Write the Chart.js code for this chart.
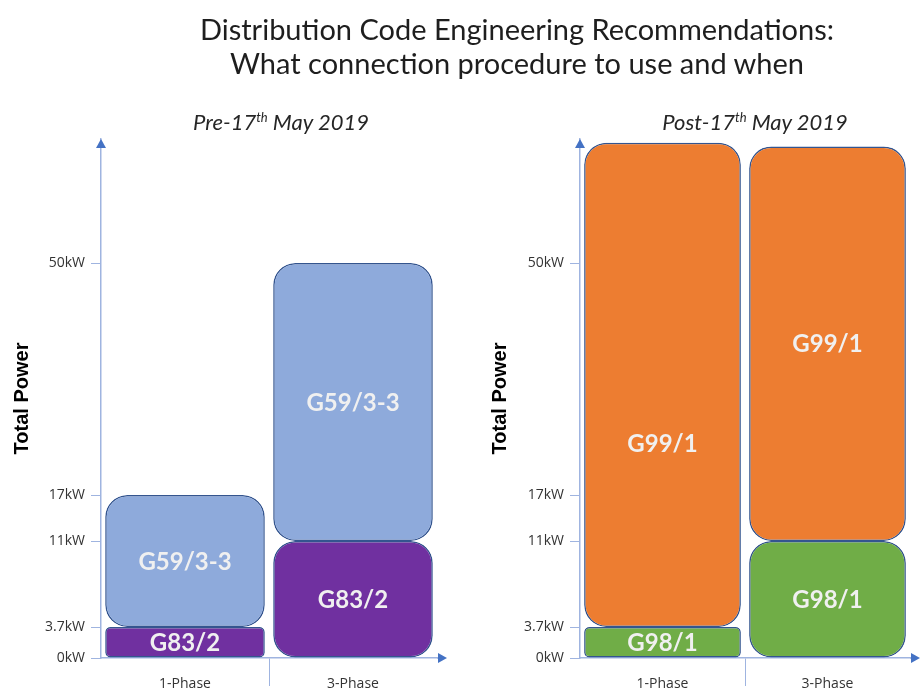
<!DOCTYPE html>
<html>
<head>
<meta charset="utf-8">
<title>Distribution Code Engineering Recommendations</title>
<script src="https://cdn.jsdelivr.net/npm/chart.js@4.4.1/dist/chart.umd.min.js"></script>
<style>
  body { margin: 0; background: #fff; width: 920px; height: 692px; overflow: hidden; position: relative; }
  canvas { position: absolute; top: 0; }
  #pre { left: 0; }
  #post { left: 460px; }
  .title { position: absolute; left: 97px; width: 840px; top: 12px; text-align: center;
           font-family: Lato, sans-serif; font-size: 29px; line-height: 34px; color: #1e1e1e; }
  .sub { position: absolute; top: 108px; width: 300px; text-align: center;
         font-family: Lato, sans-serif; font-style: italic; font-size: 22px; color: #262626; }
  .sub sup { font-size: 13px; vertical-align: 8px; line-height: 0; }
</style>
</head>
<body>
<canvas id="pre" width="460" height="692"></canvas>
<canvas id="post" width="460" height="692"></canvas>
<div class="title">Distribution Code Engineering Recommendations:<br>What connection procedure to use and when</div>
<div class="sub" style="left:131px">Pre-17<sup>th</sup> May 2019</div>
<div class="sub" style="left:605px">Post-17<sup>th</sup> May 2019</div>
<script>
// categories and axis ticks (kW)
var categories = ['1-Phase', '3-Phase'];
var yTicks = [0, 3.7, 11, 17, 50];

// floating ranges [from, to] in kW
var preLower = [[0, 3.7], [0, 11]];
var preUpper = [[3.7, 17], [11, 50]];
var postLower = [[0, 3.7], [0, 11]];
var postUpper = [[3.7, 69.4], [11, 68.8]];

// procedure names shown inside the boxes
var preLowerNames = ['G83/2', 'G83/2'];
var preUpperNames = ['G59/3-3', 'G59/3-3'];
var postLowerNames = ['G98/1', 'G98/1'];
var postUpperNames = ['G99/1', 'G99/1'];

// the power axis is not to scale: each kW band gets its own height
var axisKnots = [0, 3.7, 11, 17, 50, 70];
var axisSpacing = [0, 31, 117, 163, 395, 519];

class SegmentScale extends Chart.LinearScale {
  getPixelForValue(value) {
    var v = axisKnots, p = axisSpacing;
    var i = 0;
    while (i < v.length - 2 && value > v[i + 1]) i++;
    var f = p[i] + (value - v[i]) / (v[i + 1] - v[i]) * (p[i + 1] - p[i]);
    return this.getPixelForDecimal(f / p[p.length - 1]);
  }
  getValueForPixel(pixel) {
    var v = axisKnots, p = axisSpacing;
    var d = this.getDecimalForPixel(pixel) * p[p.length - 1];
    var i = 0;
    while (i < p.length - 2 && d > p[i + 1]) i++;
    return v[i] + (d - p[i]) / (p[i + 1] - p[i]) * (v[i + 1] - v[i]);
  }
}
SegmentScale.id = 'segment';
SegmentScale.defaults = Chart.LinearScale.defaults;
Chart.register(SegmentScale);

var axisColor = '#9fb4e0';
var arrowColor = '#4472c4';

// write the procedure name in the middle of each box
var boxText = {
  id: 'boxText',
  afterDatasetsDraw: function(chart) {
    var ctx = chart.ctx;
    ctx.save();
    ctx.font = 'bold 24px Lato';
    ctx.textAlign = 'center';
    ctx.textBaseline = 'middle';
    ctx.fillStyle = '#f0f0f0';
    chart.data.datasets.forEach(function(ds, di) {
      var shift = ds.nameShift || [0, 0];
      chart.getDatasetMeta(di).data.forEach(function(bar, i) {
        ctx.fillText(ds.names[i], bar.x, (bar.y + bar.base) / 2 + 1 + shift[i]);
      });
    });
    ctx.restore();
  }
};

// arrow heads on both axes
var axisArrows = {
  id: 'axisArrows',
  afterDraw: function(chart) {
    var ctx = chart.ctx, a = chart.chartArea;
    var tipX = a.right + 10;
    ctx.save();
    ctx.strokeStyle = axisColor;
    ctx.lineWidth = 1.5;
    ctx.beginPath();
    ctx.moveTo(a.right, a.bottom);
    ctx.lineTo(tipX - 6, a.bottom);
    ctx.stroke();
    ctx.fillStyle = arrowColor;
    ctx.beginPath();
    ctx.moveTo(a.left, a.top);
    ctx.lineTo(a.left - 5, a.top + 9);
    ctx.lineTo(a.left + 5, a.top + 9);
    ctx.closePath();
    ctx.fill();
    ctx.beginPath();
    ctx.moveTo(tipX, a.bottom);
    ctx.lineTo(tipX - 9, a.bottom - 5);
    ctx.lineTo(tipX - 9, a.bottom + 5);
    ctx.closePath();
    ctx.fill();
    ctx.restore();
  }
};

function makeChart(id, lower, upper, lowerNames, upperNames, lowerColor, upperColor, axisWidth, titlePad, padRight, upperShift) {
  var ctx = document.getElementById(id).getContext('2d');
  return new Chart(ctx, {
    type: 'bar',
    data: {
      labels: categories,
      datasets: [{
        data: lower,
        names: lowerNames,
        backgroundColor: lowerColor,
        borderRadius: [5, 22]
      }, {
        data: upper,
        names: upperNames,
        nameShift: upperShift,
        backgroundColor: upperColor,
        borderRadius: 22
      }]
    },
    options: {
      responsive: false,
      animation: false,
      layout: { padding: { left: 0, top: 139, right: padRight, bottom: 0 } },
      datasets: {
        bar: {
          grouped: false,
          categoryPercentage: 1,
          barPercentage: 0.95,
          borderColor: '#34558f',
          borderWidth: 1.5,
          borderSkipped: false
        }
      },
      plugins: {
        legend: { display: false },
        tooltip: { enabled: false }
      },
      scales: {
        x: {
          type: 'category',
          afterFit: function(scale) { scale.height = 34; },
          border: { color: axisColor, width: 1.5 },
          grid: {
            offset: true,
            drawOnChartArea: false,
            tickLength: 28,
            color: function(c) { return c.index === 1 ? axisColor : 'rgba(0,0,0,0)'; }
          },
          ticks: { padding: -10, color: '#333', font: { family: 'Open Sans', size: 14 } }
        },
        y: {
          type: 'segment',
          min: 0,
          max: 70,
          afterFit: function(scale) { scale.width = axisWidth; },
          afterBuildTicks: function(scale) {
            scale.ticks = yTicks.map(function(v) { return { value: v }; });
          },
          border: { color: axisColor, width: 1.5 },
          grid: { drawOnChartArea: false, tickLength: 10, color: axisColor },
          ticks: {
            autoSkip: false,
            padding: 6,
            color: '#333',
            font: { family: 'Open Sans', size: 14 },
            callback: function(v) { return v + 'kW'; }
          },
          title: {
            display: true,
            text: 'Total Power',
            color: '#000',
            padding: { top: titlePad, bottom: 0 },
            font: { family: 'Liberation Sans', size: 20, weight: 'bold' }
          }
        }
      }
    },
    plugins: [boxText, axisArrows]
  });
}

makeChart('pre', preLower, preUpper, preLowerNames, preUpperNames, '#7030a0', '#8eaadb', 101, 10, 23, [0, 0]);
makeChart('post', postLower, postUpper, postLowerNames, postUpperNames, '#70ad47', '#ed7d31', 120, 28, 10, [58, 0]);
</script>
</body>
</html>
